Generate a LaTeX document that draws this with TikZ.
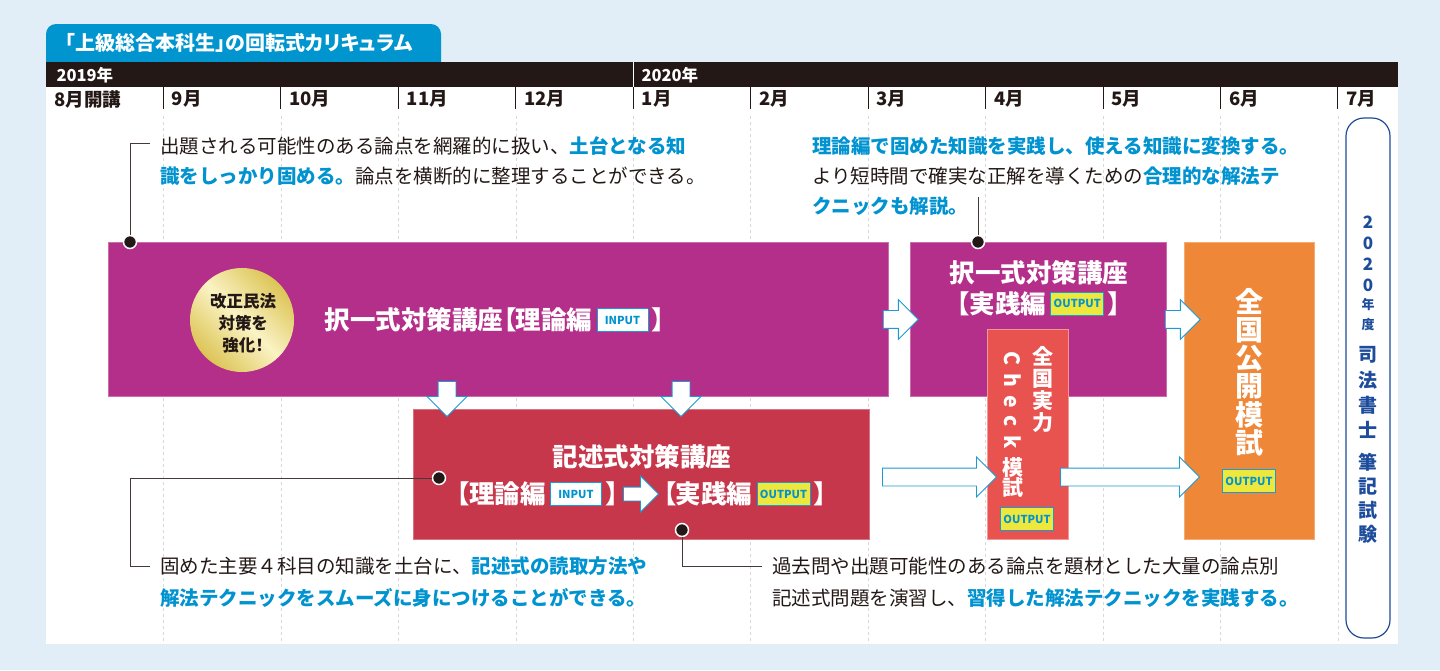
\documentclass[tikz,border=0pt]{standalone}
\usepackage{fontspec}
\setmainfont{Noto Sans CJK JP}
\newfontfamily\jpp{Noto Sans CJK JP}[RawFeature=+palt]
\usetikzlibrary{shapes.arrows}
\definecolor{skyback}{HTML}{E1EEF8}
\definecolor{tabblue}{HTML}{0095CE}
\definecolor{barblack}{HTML}{231815}
\definecolor{plum}{HTML}{B42F8A}
\definecolor{crimson}{HTML}{C7374C}
\definecolor{coral}{HTML}{E9534F}
\definecolor{tangerine}{HTML}{EF8739}
\definecolor{lemon}{HTML}{EEE83C}
\definecolor{textblue}{HTML}{0093D0}
\definecolor{arrowblue}{HTML}{1A9AD6}
\definecolor{navy}{HTML}{1E4C9C}
\definecolor{golddark}{HTML}{DCC455}
\definecolor{goldlight}{HTML}{FAF3C4}
\definecolor{gridgray}{HTML}{D8D8D8}
% small INPUT / OUTPUT badge
\newcommand{\tagbox}[3]{{\setlength{\fboxsep}{0pt}\setlength{\fboxrule}{0.8pt}%
  \raisebox{5.5pt}{\fcolorbox{arrowblue}{#1}{\makebox[#2]{\rule[-7pt]{0pt}{22pt}\jpp\fontsize{11}{11}\selectfont\bfseries\textcolor{textblue}{#3}}}}}}
\newcommand{\hl}[1]{\textcolor{textblue}{\bfseries #1}}

\begin{document}
\begin{tikzpicture}[x=1pt, y=-1pt,
    box/.style={anchor=north west, inner sep=0pt, line width=0.8pt},
    hollow/.style={single arrow, draw=arrowblue, fill=white, line width=0.9pt,
        inner sep=8.5pt, single arrow head extend=11pt, anchor=tail},
    dot/.style={circle, fill=barblack, draw=white, line width=1.5pt, minimum size=13pt, inner sep=0pt},
    lead/.style={draw=barblack!85, line width=1pt},
    note/.style={align=left, inner xsep=10pt, inner ysep=0pt, text=barblack, anchor=west},
    title/.style={text=white, font=\jpp\bfseries\fontsize{25.5}{31}\selectfont, align=center, inner sep=0pt},
    tategaki/.style={text=white, align=center, inner sep=0pt}]
    \useasboundingbox (0,0) rectangle (1440,670);
    % background and white sheet
    \fill[skyback] (0,0) rectangle (1440,670);
    \fill[white] (46,87) rectangle (1398,644);
    % title tab
    \fill[tabblue, rounded corners=10pt] (46,24) rectangle (441,75);
    \node[text=white, font=\jpp\bfseries\fontsize{20}{20}\selectfont] (tabtitle) at (239,43) {「上級総合本科生」の回転式カリキュラム};
    % year bar
    \fill[barblack] (46,62) rectangle (1398,87);
    \draw[white, line width=1pt] (633,62) -- (633,87);
    \node[anchor=west, text=white, font=\bfseries\fontsize{16.5}{17}\selectfont] (y2019) at (53,75) {2019年};
    \node[anchor=west, text=white, font=\bfseries\fontsize{16.5}{17}\selectfont] (y2020) at (638,75) {2020年};
    % months and grid
    \foreach \m [count=\i from 0] in {8月開講, 9月, 10月, 11月, 12月, 1月, 2月, 3月, 4月, 5月, 6月, 7月}{
        \node[anchor=west, text=barblack, font=\bfseries\fontsize{18.5}{18.5}\selectfont] (month\i) at ({46+117.45*\i+5},99) {\m};
    }
    \foreach \i in {1,...,11}{
        \draw[barblack, line width=1pt] ({46+117.45*\i},87) -- ({46+117.45*\i},109);
        \draw[gridgray, dashed, line width=0.6pt] ({46+117.45*\i},116) -- ({46+117.45*\i},644);
    }
    % courses
    \node[box, fill=plum, draw=plum!70!white, minimum width=780pt, minimum height=154pt] (theory) at (108,242) {};
    \node[box, fill=plum, draw=plum!70!white, minimum width=256pt, minimum height=154pt] (practice) at (910,242) {};
    \node[box, fill=crimson, draw=crimson!70!white, minimum width=456pt, minimum height=130pt] (essay) at (413,409) {};
    \node[box, fill=coral, draw=coral!60!white, minimum width=81pt, minimum height=210pt] (check) at (987,329) {};
    \node[box, fill=tangerine, draw=tangerine!70!white, minimum width=130pt, minimum height=297pt] (mock) at (1184,242) {};
    % gold seal
    \node[circle, minimum size=104pt, inner sep=0pt, top color=golddark, bottom color=golddark,
        middle color=goldlight, shading angle=135] (seal) at (242,320) {};
    \node[align=center, inner sep=0pt, text=barblack, font=\jpp\bfseries\fontsize{16.5}{22}\selectfont] (sealtext) at (243,323) {改正民法\\対策を\\強化！};
    % course titles
    \node[title] (theorytitle) at (495,320) {択一式対策講座【理論編\,\tagbox{white}{50pt}{INPUT}\,】};
    \node[title] (practicetitle) at (1039,288) {択一式対策講座\\【実践編\,\tagbox{lemon}{52pt}{OUTPUT}\,】};
    \node[title] (essaytitle) at (642,457) {記述式対策講座};
    \node[title, anchor=east] (essayin) at (619,494) {【理論編\,\tagbox{white}{50pt}{INPUT}\,】};
    \node[hollow, inner sep=6.5pt, minimum height=35pt] (essayarrow) at (623,494) {};
    \node[title, anchor=west] (essayout) at (663,494) {【実践編\,\tagbox{lemon}{52pt}{OUTPUT}\,】};
    \node[tategaki, font=\jpp\bfseries\fontsize{21}{22}\selectfont] (checkname) at (1043,390) {全\\国\\実\\力};
    \node[rotate=-90, text=white, inner sep=0pt, font=\bfseries\fontsize{21}{21}\selectfont] (checkword) at (1013,400) {C\hspace{8pt}h\hspace{8pt}e\hspace{8pt}c\hspace{8pt}k};
    \node[tategaki, font=\jpp\bfseries\fontsize{21}{20}\selectfont] (checkmock) at (1013,478) {模\\試};
    \node[inner sep=0pt] (checktag) at (1027,519) {\tagbox{lemon}{52pt}{OUTPUT}};
    \node[tategaki, font=\jpp\bfseries\fontsize{28}{28.2}\selectfont] (mockname) at (1249,372) {全\\国\\公\\開\\模\\試};
    \node[inner sep=0pt] (mocktag) at (1249,481) {\tagbox{lemon}{52pt}{OUTPUT}};
    % hollow arrows
    \node[hollow, minimum height=35pt] (arrowA) at ([xshift=-6pt]theory.east) {};
    \node[hollow, minimum height=35pt] (arrowB) at ([xshift=-2pt]practice.east) {};
    \node[hollow, minimum height=114pt] (arrowC) at (882,477) {};
    \node[hollow, minimum height=139pt] (arrowD) at (1060,477) {};
    \node[hollow, shape border rotate=270, minimum height=35pt] (arrowE) at (447,381) {};
    \node[hollow, shape border rotate=270, minimum height=35pt] (arrowF) at (681,381) {};
    % exam box
    \node[draw=navy, line width=1.2pt, rounded corners=18pt, minimum width=44pt, minimum height=520pt, inner sep=0pt] (exam) at (1368,378) {};
    \foreach \ch/\yy/\sz [count=\n] in {2/222/17, 0/243/17, 2/264/17, 0/285/17, 年/305/13, 度/325/13,
        司/355/19, 法/380/19, 書/405/19, 士/430/19, 筆/462/19, 記/486/19, 試/510/19, 験/534/19}{
        \node[text=navy, inner sep=0pt, font=\bfseries\fontsize{\sz}{\sz}\selectfont] (exam\n) at (1368,\yy) {\ch};
    }
    % callouts
    \node[dot] (dotA) at (130,242) {};
    \coordinate (bendA) at (130,143);
    \node[note, font=\fontsize{19.5}{30}\selectfont] (noteA) at (150,161)
        {出題される可能性のある論点を網羅的に扱い、\hl{土台となる知}\\\hl{識をしっかり固める。}論点を横断的に整理することができる。};
    \draw[lead] (dotA) -- (bendA) -- (bendA -| noteA.west);
    \node[dot] (dotB) at (978,242) {};
    \coordinate (tipB) at (978,197);
    \node[note, font=\fontsize{19.5}{30}\selectfont] (noteB) at (802,176)
        {\hl{理論編で固めた知識を実践し、使える知識に変換する。}\\より短時間で確実な正解を導くための\hl{合理的な解法テ}\\\hl{クニックも解説。}};
    \draw[lead] (dotB) -- (tipB);
    \node[dot] (dotC) at (439,478) {};
    \coordinate (bendC1) at (130,478);
    \coordinate (bendC2) at (130,566);
    \node[note, font=\fontsize{19.5}{32}\selectfont] (noteC) at (150,582)
        {固めた主要４科目の知識を土台に、\hl{記述式の読取方法や}\\\hl{解法テクニックをスムーズに身につけることができる。}};
    \draw[lead] (dotC) -- (bendC1) -- (bendC2) -- (bendC2 -| noteC.west);
    \node[dot] (dotD) at (682,530) {};
    \coordinate (bendD) at (682,566);
    \node[note, font=\fontsize{19.5}{32}\selectfont] (noteD) at (762,582)
        {過去問や出題可能性のある論点を題材とした大量の論点別\\記述式問題を演習し、\hl{習得した解法テクニックを実践する。}};
    \draw[lead] (dotD) -- (bendD) -- (bendD -| noteD.west);
\end{tikzpicture}
\end{document}
